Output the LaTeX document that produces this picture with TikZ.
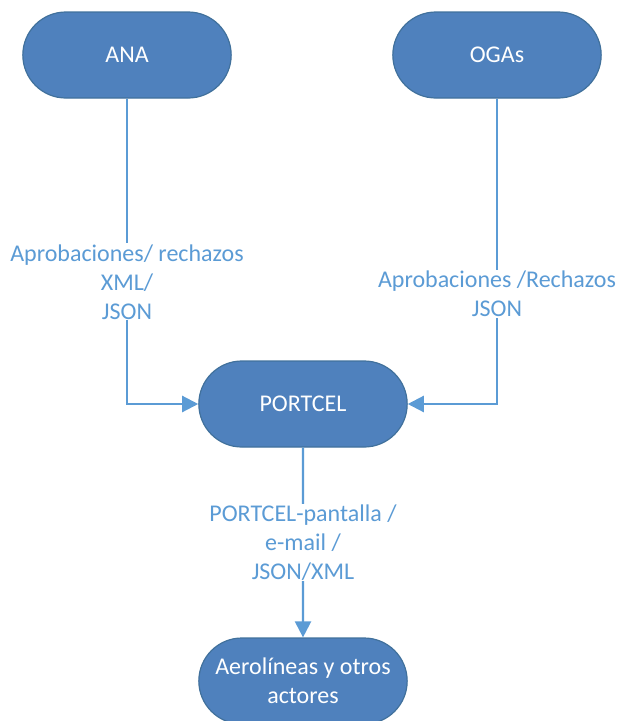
\documentclass[tikz,border=0pt]{standalone}
\usepackage{fontspec}
\setmainfont{Carlito}
\usetikzlibrary{shapes.misc,arrows.meta}
\definecolor{boxfill}{RGB}{79,129,189}
\definecolor{boxline}{RGB}{65,113,156}
\definecolor{flow}{RGB}{91,155,213}
\begin{document}
\begin{tikzpicture}[x=1pt,y=-1pt,
    box/.style={rounded rectangle, draw=boxline, line width=1.2pt, fill=boxfill, text=white,
      minimum width=215pt, minimum height=86pt, align=center,
      font=\fontsize{24}{29}\selectfont},
    flowlbl/.style={fill=white, text=flow, align=center, inner sep=1pt,
      font=\fontsize{24}{29}\selectfont},
    flw/.style={draw=flow, line width=2.2pt, -{Triangle[length=16pt,width=16pt]}}]
    \useasboundingbox (0,0) rectangle (621,721);
    \node[box] (ana) at (127, 55) {ANA};
    \node[box] (oga) at (497, 55) {OGAs};
    \node[box] (pc) at (303, 404) {PORTCEL};
    \node[box] (al) at (303, 681) {Aerolíneas y otros\\actores};
    \draw[flw] (ana) |- node[flowlbl, pos=0.3] {Aprobaciones/ rechazos\\XML/\\JSON} (pc);
    \draw[flw] (oga) |- node[flowlbl, pos=0.32] {Aprobaciones /Rechazos\\JSON} (pc);
    \draw[flw] (pc) to node[flowlbl] {PORTCEL-pantalla /\\e-mail /\\JSON/XML} (al);
  \end{tikzpicture}
\end{document}
